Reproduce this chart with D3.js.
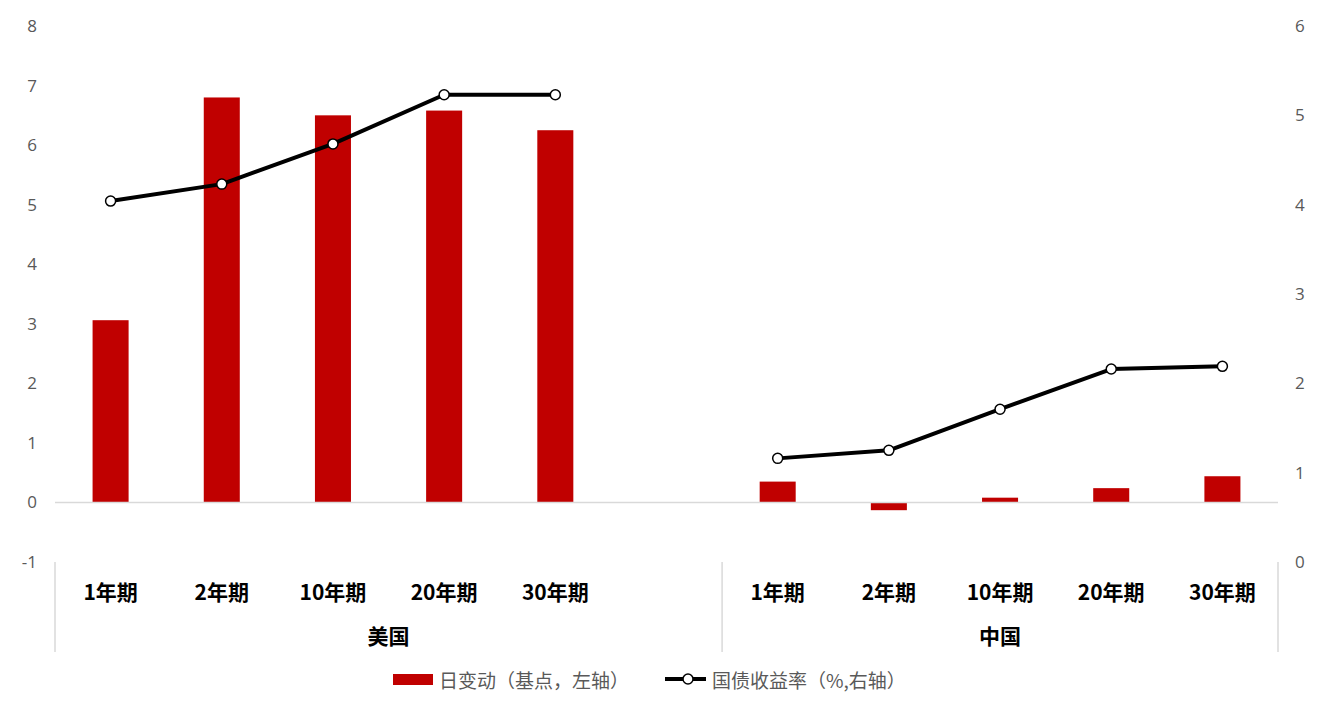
<!DOCTYPE html>
<html>
<head>
<meta charset="utf-8">
<script src="https://cdn.jsdelivr.net/npm/d3@7"></script>
<style>
  body { margin: 0; background: #fff; }
  text { font-family: "Noto Sans CJK SC", "Liberation Sans", sans-serif; }
</style>
</head>
<body>
<script>
const tenors = ['1年期', '2年期', '10年期', '20年期', '30年期'];
const groups = ['美国', '中国'];
const usChange = [3.06, 6.80, 6.50, 6.58, 6.25];
const cnChange = [0.35, -0.13, 0.08, 0.24, 0.44];
const usYield = [4.04, 4.23, 4.68, 5.23, 5.23];
const cnYield = [1.16, 1.25, 1.71, 2.16, 2.19];
const leftTicks = [-1, 0, 1, 2, 3, 4, 5, 6, 7, 8];
const rightTicks = [0, 1, 2, 3, 4, 5, 6];
const legendBar = '日变动（基点，左轴）';
const legendLine = '国债收益率（%,右轴）';

const width = 1323, height = 701;
const svg = d3.select('body').append('svg')
  .attr('width', width).attr('height', height);

// rows: five US tenors, one empty slot, five China tenors
const rows = [];
tenors.forEach((t, i) => rows.push({key: 'US' + i, tenor: t, change: usChange[i], yld: usYield[i]}));
rows.push({key: 'gap', tenor: '', change: null, yld: null});
tenors.forEach((t, i) => rows.push({key: 'CN' + i, tenor: t, change: cnChange[i], yld: cnYield[i]}));

const x = d3.scaleBand().domain(rows.map(d => d.key)).range([55, 1278]).paddingInner(0.676).paddingOuter(0.338);
const yL = d3.scaleLinear().domain([-1, 8]).range([562, 26]);
const yR = d3.scaleLinear().domain([0, 6]).range([562, 26]);

const tickFmt = d => String(d);

// left axis
svg.append('g')
  .attr('transform', 'translate(37,0)')
  .call(d3.axisLeft(yL).tickValues(leftTicks).tickFormat(tickFmt).tickSize(0).tickPadding(0))
  .call(g => g.select('.domain').remove())
  .selectAll('text')
  .attr('fill', '#595959').style('font-size', '17px')
  .style('font-family', '"Open Sans", "Liberation Sans", sans-serif');

// right axis
svg.append('g')
  .attr('transform', 'translate(1295,0)')
  .call(d3.axisRight(yR).tickValues(rightTicks).tickFormat(tickFmt).tickSize(0).tickPadding(0))
  .call(g => g.select('.domain').remove())
  .selectAll('text')
  .attr('fill', '#595959').style('font-size', '17px')
  .style('font-family', '"Open Sans", "Liberation Sans", sans-serif');

// bars
svg.append('g').selectAll('rect')
  .data(rows.filter(d => d.change !== null))
  .enter().append('rect')
  .attr('x', d => x(d.key))
  .attr('width', x.bandwidth())
  .attr('y', d => yL(Math.max(0, d.change)))
  .attr('height', d => Math.abs(yL(d.change) - yL(0)))
  .attr('fill', '#C00000');

// zero line
svg.append('line')
  .attr('x1', 55).attr('x2', 1278)
  .attr('y1', yL(0)).attr('y2', yL(0))
  .attr('stroke', '#d9d9d9').attr('stroke-width', 1.5);

// category axis dividers
const step = x.step();
const divX = [55, x('gap') + x.bandwidth() / 2 + step / 2, 1278];
svg.append('g').selectAll('line')
  .data(divX).enter().append('line')
  .attr('x1', d => d).attr('x2', d => d)
  .attr('y1', 562).attr('y2', 652)
  .attr('stroke', '#d9d9d9').attr('stroke-width', 1.5);

// tenor labels
svg.append('g').selectAll('text')
  .data(rows.filter(d => d.tenor)).enter().append('text')
  .attr('x', d => x(d.key) + x.bandwidth() / 2)
  .attr('y', 591)
  .attr('text-anchor', 'middle').attr('dominant-baseline', 'central')
  .attr('font-weight', 'bold').style('font-size', '21px').attr('fill', '#000')
  .text(d => d.tenor);

// group labels
svg.append('g').selectAll('text')
  .data(groups).enter().append('text')
  .attr('x', (d, i) => i === 0 ? (55 + divX[1]) / 2 : (divX[1] + 1278) / 2)
  .attr('y', 635)
  .attr('text-anchor', 'middle').attr('dominant-baseline', 'central')
  .attr('font-weight', 'bold').style('font-size', '21px').attr('fill', '#000')
  .text(d => d);

// yield line (broken between the two countries)
const line = d3.line()
  .defined(d => d.yld !== null)
  .x(d => x(d.key) + x.bandwidth() / 2)
  .y(d => yR(d.yld));
svg.append('path')
  .datum(rows)
  .attr('d', line)
  .attr('fill', 'none').attr('stroke', '#000').attr('stroke-width', 4)
  .attr('stroke-linejoin', 'round');
svg.append('g').selectAll('circle')
  .data(rows.filter(d => d.yld !== null)).enter().append('circle')
  .attr('cx', d => x(d.key) + x.bandwidth() / 2)
  .attr('cy', d => yR(d.yld))
  .attr('r', 5)
  .attr('fill', '#fff').attr('stroke', '#000').attr('stroke-width', 1.5);

// legend
const lg = svg.append('g');
lg.append('rect').attr('x', 393).attr('y', 674).attr('width', 40).attr('height', 11).attr('fill', '#C00000');
lg.append('text').attr('x', 439).attr('y', 679).attr('dominant-baseline', 'central')
  .attr('fill', '#595959').style('font-size', '19px').text(legendBar);
lg.append('line').attr('x1', 665).attr('x2', 706).attr('y1', 679).attr('y2', 679)
  .attr('stroke', '#000').attr('stroke-width', 4);
lg.append('circle').attr('cx', 688).attr('cy', 679).attr('r', 5)
  .attr('fill', '#fff').attr('stroke', '#000').attr('stroke-width', 1.5);
lg.append('text').attr('x', 712).attr('y', 679).attr('dominant-baseline', 'central')
  .attr('fill', '#595959').style('font-size', '19px').text(legendLine);
</script>
</body>
</html>
